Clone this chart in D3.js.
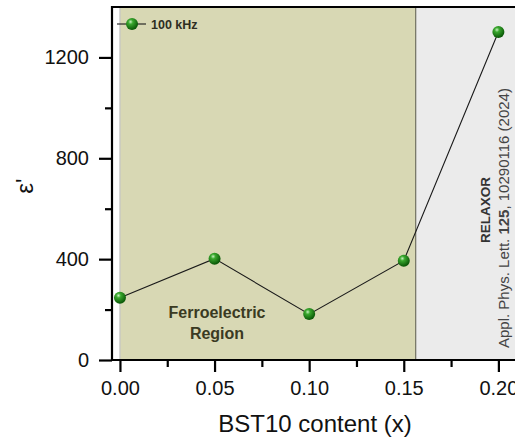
<!DOCTYPE html>
<html>
<head>
<meta charset="utf-8">
<script src="https://cdn.jsdelivr.net/npm/d3@7"></script>
<style>
  body { margin: 0; background: #fff; }
  svg { display: block; font-family: "Liberation Sans", Arial, sans-serif; }
</style>
</head>
<body>
<div id="chart"></div>
<script>
// Dados
var contents = [0.00, 0.05, 0.10, 0.15, 0.20];
var permittivity = [247, 402, 182, 394, 1301];
var xTicks = [0.00, 0.05, 0.10, 0.15, 0.20];
var xMinor = [0.025, 0.075, 0.125, 0.175];
var yTicks = [0, 400, 800, 1200];
var yMinor = [200, 600, 1000];
var regionEdges = [0, 0.1563];

// Tamanho do svg
var w = 515, h = 439;
var svg = d3.select("#chart").append("svg")
  .attr("width", w).attr("height", h);

// Escalas
var x = d3.scaleLinear().domain([-0.0042, 0.21]).range([112, 517.3]);
var y = d3.scaleLinear().domain([0, 1400]).range([360, 7]);

// Gradiente das bolinhas
var grad = svg.append("defs").append("radialGradient")
  .attr("id", "ball").attr("cx", "38%").attr("cy", "32%").attr("r", "65%");
grad.append("stop").attr("offset", "0%").attr("stop-color", "#c8f0c0");
grad.append("stop").attr("offset", "30%").attr("stop-color", "#3aa82e");
grad.append("stop").attr("offset", "100%").attr("stop-color", "#0b5a08");

// Regioes
svg.append("rect")
  .attr("x", x(regionEdges[1])).attr("y", y(1400))
  .attr("width", w - x(regionEdges[1])).attr("height", y(0) - y(1400))
  .attr("fill", "#ebebeb");
svg.append("rect")
  .attr("x", x(regionEdges[0])).attr("y", y(1400))
  .attr("width", x(regionEdges[1]) - x(regionEdges[0])).attr("height", y(0) - y(1400))
  .attr("fill", "#d8d8b4");
svg.append("line")
  .attr("x1", x(regionEdges[0])).attr("x2", x(regionEdges[0]))
  .attr("y1", y(1400)).attr("y2", y(0))
  .attr("stroke", "#c4c4c4").attr("stroke-width", 1.2);
svg.append("line")
  .attr("x1", x(regionEdges[1])).attr("x2", x(regionEdges[1]))
  .attr("y1", y(1400)).attr("y2", y(0))
  .attr("stroke", "#707060").attr("stroke-width", 1.2);

// Eixos
var xAxis = d3.axisBottom(x).tickValues(xTicks).tickSize(12).tickPadding(9)
  .tickFormat(d3.format(".2f"));
var xAxisMinor = d3.axisBottom(x).tickValues(xMinor).tickSize(7).tickFormat("");
var yAxis = d3.axisLeft(y).tickValues(yTicks).tickSize(13).tickPadding(10)
  .tickFormat(d3.format("d"));
var yAxisMinor = d3.axisLeft(y).tickValues(yMinor).tickSize(7).tickFormat("");

function styleAxis(g) {
  g.select(".domain").remove();
  g.selectAll(".tick line").attr("stroke", "#000").attr("stroke-width", 2.2);
  g.selectAll(".tick text").attr("font-size", "20px").attr("fill", "#111")
    .attr("font-family", "Liberation Sans, Arial, sans-serif");
}
svg.append("g").attr("transform", "translate(0," + y(0) + ")").call(xAxis).call(styleAxis);
svg.append("g").attr("transform", "translate(0," + y(0) + ")").call(xAxisMinor).call(styleAxis);
svg.append("g").attr("transform", "translate(" + x.range()[0] + ",0)").call(yAxis).call(styleAxis);
svg.append("g").attr("transform", "translate(" + x.range()[0] + ",0)").call(yAxisMinor).call(styleAxis);

// Linhas dos eixos (esquerda, baixo, topo)
svg.append("path")
  .attr("d", "M" + w + "," + y(1400) + "H" + x.range()[0] + "V" + y(0) + "H" + w)
  .attr("fill", "none").attr("stroke", "#000").attr("stroke-width", 2.2);

// Serie
var pts = contents.map(function(c, i) { return [c, permittivity[i]]; });
svg.append("path")
  .datum(pts)
  .attr("d", d3.line().x(function(d) { return x(d[0]); }).y(function(d) { return y(d[1]); }))
  .attr("fill", "none").attr("stroke", "#1a1a1a").attr("stroke-width", 1.1);
svg.selectAll("circle.pt")
  .data(pts).enter().append("circle")
  .attr("class", "pt")
  .attr("cx", function(d) { return x(d[0]); })
  .attr("cy", function(d) { return y(d[1]); })
  .attr("r", 6)
  .attr("fill", "url(#ball)");

// Legenda
svg.append("line").attr("x1", 117).attr("x2", 146).attr("y1", 24).attr("y2", 24)
  .attr("stroke", "#1a1a1a").attr("stroke-width", 1.1);
svg.append("circle").attr("cx", 132).attr("cy", 24).attr("r", 6).attr("fill", "url(#ball)");
svg.append("text").attr("x", 151).attr("y", 28.5)
  .attr("font-size", "12.5px").attr("font-weight", "bold").attr("fill", "#2e2e22")
  .text("100 kHz");

// Textos das regioes
var fer = svg.append("text").attr("x", 217).attr("text-anchor", "middle")
  .attr("font-size", "16px").attr("font-weight", "bold").attr("fill", "#3a3a22");
fer.append("tspan").attr("x", 217).attr("y", 318).text("Ferroelectric");
fer.append("tspan").attr("x", 217).attr("y", 339).text("Region");

svg.append("text")
  .attr("transform", "translate(490,210) rotate(-90)")
  .attr("text-anchor", "middle")
  .attr("font-size", "13.5px").attr("font-weight", "bold").attr("fill", "#333")
  .text("RELAXOR");
var cite = svg.append("text")
  .attr("transform", "translate(509,348) rotate(-90)")
  .attr("font-size", "15px").attr("fill", "#444");
cite.append("tspan").text("Appl. Phys. Lett. ");
cite.append("tspan").attr("font-weight", "bold").text("125");
cite.append("tspan").text(", 10290116 (2024)");

// Labels dos eixos
svg.append("text")
  .attr("x", 315).attr("y", 432)
  .attr("text-anchor", "middle")
  .attr("font-size", "24px").attr("fill", "#111")
  .text("BST10 content (x)");
svg.append("text")
  .attr("transform", "translate(33,186) rotate(-90)")
  .attr("text-anchor", "middle")
  .attr("font-size", "24px").attr("fill", "#111")
  .text("ε'");
</script>
</body>
</html>
